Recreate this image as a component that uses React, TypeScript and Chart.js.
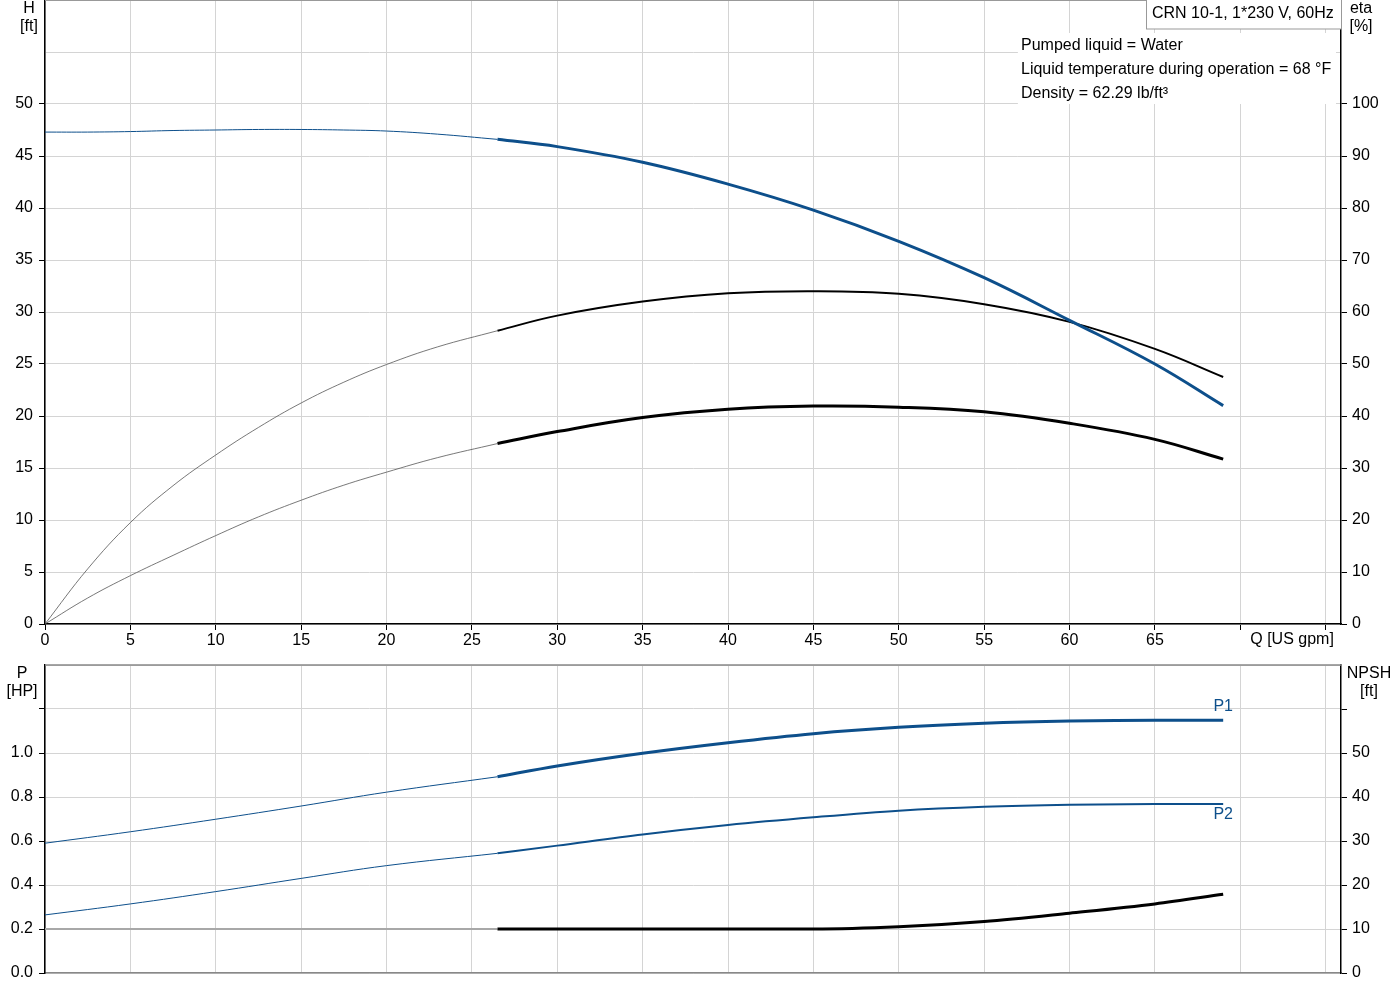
import React, { useRef, useEffect } from "react";
import { Chart, registerables } from "chart.js";

Chart.register(...registerables);

// flow rate [US gpm], split where the curves turn from thin to thick
const qLow = [0, 2.5, 5, 7.5, 10, 12.5, 15, 17.5, 20, 23, 26.5];
const qHigh = [26.5, 30, 35, 40, 45, 50, 55, 60, 65, 69];
const qPowerLow = [0, 5, 10, 15, 20, 26.5];

// head H [ft]
const headLow = [47.3, 47.3, 47.35, 47.45, 47.5, 47.55, 47.55, 47.5, 47.4, 47.1, 46.6];
const headHigh = [46.6, 45.9, 44.4, 42.3, 39.8, 36.8, 33.3, 29.2, 25.0, 21.0];

// efficiency eta [%]
const etaLow = [0, 10.6, 19.5, 26.6, 32.5, 37.8, 42.5, 46.5, 49.9, 53.3, 56.4];
const etaHigh = [56.4, 59.3, 62.0, 63.6, 64.0, 63.5, 61.5, 58.1, 52.9, 47.5];
const etaTotalLow = [0, 5.0, 9.3, 13.2, 17.0, 20.6, 23.8, 26.7, 29.2, 32.0, 34.7];
const etaTotalHigh = [34.7, 37.0, 39.7, 41.3, 41.9, 41.7, 40.8, 38.6, 35.5, 31.7];

// power [HP]
const p1Low = [0.59, 0.642, 0.699, 0.759, 0.822, 0.892];
const p1High = [0.892, 0.941, 0.999, 1.047, 1.088, 1.117, 1.135, 1.145, 1.149, 1.149];
const p2Low = [0.264, 0.314, 0.37, 0.43, 0.488, 0.544];
const p2High = [0.544, 0.579, 0.63, 0.673, 0.708, 0.738, 0.756, 0.765, 0.768, 0.768];

// NPSH [ft]
const npshLow = [10, 10, 10, 10, 10, 10];
const npshHigh = [10, 10, 10, 10, 10, 10.5, 11.7, 13.6, 15.7, 17.9];

const xTicks = [0, 5, 10, 15, 20, 25, 30, 35, 40, 45, 50, 55, 60, 65, 70, 75];
const infoLines = [
  "Pumped liquid = Water",
  "Liquid temperature during operation = 68 °F",
  "Density = 62.29 lb/ft³",
];
const pumpTitle = "CRN 10-1, 1*230 V, 60Hz";

const BLUE = "#0d4f8b";
const THIN_BLACK = "#555555";
const GRID = "#d4d4d4";
const FONT = "Liberation Sans, Arial, sans-serif";

const pts = (xs: number[], ys: number[]) => xs.map((x, i) => ({ x, y: ys[i] }));

const line = (
  data: { x: number; y: number }[],
  color: string,
  width: number,
  axis: string,
  monotone = false
) => ({
  data,
  borderColor: color,
  borderWidth: width,
  pointRadius: 0,
  fill: false,
  tension: 0.4,
  cubicInterpolationMode: monotone ? ("monotone" as const) : ("default" as const),
  yAxisID: axis,
});

const noPadding = (s: any) => {
  s.paddingTop = 0;
  s.paddingBottom = 0;
  s.paddingLeft = 0;
  s.paddingRight = 0;
};

const xScale = (showLabels: boolean, height: number) => ({
  type: "linear" as const,
  min: 0,
  max: 75.9,
  afterBuildTicks: (s: any) => {
    s.ticks = xTicks.map((value) => ({ value }));
  },
  afterFit: (s: any) => {
    s.height = height;
    noPadding(s);
  },
  grid: {
    color: GRID,
    lineWidth: 1,
    drawTicks: showLabels,
    tickLength: 6,
    tickColor: "#000",
  },
  border: { display: true, color: showLabels ? "#000" : "#888", width: 1.5 },
  ticks: {
    display: showLabels,
    padding: 1,
    color: "#000",
    font: { family: FONT, size: 16 },
    callback: (v: any) => (v <= 65 ? String(v) : ""),
  },
});

const yScale = (
  position: "left" | "right",
  max: number,
  step: number,
  labelMax: number,
  tickMax: number,
  width: number,
  withGrid: boolean,
  fmt: (v: number) => string
) => ({
  type: "linear" as const,
  position,
  min: 0,
  max,
  ticks: {
    stepSize: step,
    padding: position === "left" ? 6 : 5,
    color: "#000",
    font: { family: FONT, size: 16 },
    callback: (v: any) => (v <= labelMax + 1e-6 ? fmt(Number(v)) : ""),
  },
  afterFit: (s: any) => {
    s.width = width;
    noPadding(s);
  },
  grid: {
    display: true,
    drawOnChartArea: withGrid,
    color: GRID,
    lineWidth: 1,
    drawTicks: true,
    tickLength: 6,
    tickColor: (c: any) => (c.tick && c.tick.value <= tickMax + 1e-6 ? "#000" : "rgba(0,0,0,0)"),
  },
  border: { display: true, color: "#000", width: 1.5 },
});

const text = (
  ctx: CanvasRenderingContext2D,
  s: string,
  x: number,
  y: number,
  align: CanvasTextAlign,
  color = "#000"
) => {
  ctx.fillStyle = color;
  ctx.textAlign = align;
  ctx.textBaseline = "middle";
  ctx.fillText(s, x, y);
};

const topDecor = {
  id: "topDecor",
  afterDraw(chart: any) {
    const { ctx, chartArea } = chart;
    const xs = chart.scales.x;
    ctx.save();
    ctx.font = `16px ${FONT}`;
    // top border
    ctx.strokeStyle = "#999";
    ctx.lineWidth = 1;
    ctx.beginPath();
    ctx.moveTo(chartArea.left, chartArea.top + 0.5);
    ctx.lineTo(chartArea.right, chartArea.top + 0.5);
    ctx.stroke();
    // axis titles
    text(ctx, "H", chartArea.left - 16, 9, "center");
    text(ctx, "[ft]", chartArea.left - 16, 27, "center");
    text(ctx, "eta", chartArea.right + 20, 9, "center");
    text(ctx, "[%]", chartArea.right + 20, 27, "center");
    text(ctx, "Q [US gpm]", xs.getPixelForValue(70) + 10, chartArea.bottom + 16, "left");
    // info block
    ctx.fillStyle = "#fff";
    ctx.fillRect(1018, 33, 318, 71);
    infoLines.forEach((s, i) => text(ctx, s, 1021, 46 + i * 24, "left"));
    // pump title box
    ctx.fillStyle = "#fff";
    ctx.fillRect(1146, 0, chartArea.right - 1146, 29);
    ctx.strokeStyle = "#999";
    ctx.strokeRect(1146.5, -1, chartArea.right - 1146, 30);
    text(ctx, pumpTitle, 1152, 14, "left");
    ctx.restore();
  },
};

const bottomDecor = {
  id: "bottomDecor",
  afterDraw(chart: any) {
    const { ctx, chartArea } = chart;
    ctx.save();
    ctx.font = `16px ${FONT}`;
    ctx.strokeStyle = "#888";
    ctx.lineWidth = 1.5;
    ctx.beginPath();
    ctx.moveTo(chartArea.left, chartArea.top);
    ctx.lineTo(chartArea.right, chartArea.top);
    ctx.stroke();
    text(ctx, "P", chartArea.left - 23, 19, "center");
    text(ctx, "[HP]", chartArea.left - 23, 37, "center");
    text(ctx, "NPSH", chartArea.right + 28, 19, "center");
    text(ctx, "[ft]", chartArea.right + 28, 37, "center");
    const p1 = chart.getDatasetMeta(0).data;
    const p2 = chart.getDatasetMeta(2).data;
    const e1 = p1[p1.length - 1];
    const e2 = p2[p2.length - 1];
    text(ctx, "P1", e1.x, e1.y - 14, "center", BLUE);
    text(ctx, "P2", e2.x, e2.y + 11, "center", BLUE);
    ctx.restore();
  },
};

const App = () => {
  const topRef = useRef<HTMLCanvasElement>(null);
  const bottomRef = useRef<HTMLCanvasElement>(null);

  useEffect(() => {
    if (!topRef.current || !bottomRef.current) return;

    const top = new Chart(topRef.current, {
      type: "line",
      data: {
        datasets: [
          line(pts(qHigh, headHigh), BLUE, 3, "y"),
          line(pts(qLow, headLow), BLUE, 1, "y"),
          line(pts(qHigh, etaHigh), "#000", 2, "y1"),
          line(pts(qLow, etaLow), THIN_BLACK, 0.8, "y1"),
          line(pts(qHigh, etaTotalHigh), "#000", 3, "y1"),
          line(pts(qLow, etaTotalLow), THIN_BLACK, 0.8, "y1"),
        ] as any,
      },
      options: {
        responsive: false,
        animation: false,
        events: [],
        layout: { padding: 0 },
        plugins: { legend: { display: false }, tooltip: { enabled: false } },
        scales: {
          x: xScale(true, 31),
          y: yScale("left", 60, 5, 50, 50, 45, true, (v) => String(v)),
          y1: yScale("right", 120, 10, 100, 100, 59, false, (v) => String(v)),
        } as any,
      },
      plugins: [topDecor],
    });

    const bottom = new Chart(bottomRef.current, {
      type: "line",
      data: {
        datasets: [
          line(pts(qHigh, p1High), BLUE, 3, "y", true),
          line(pts(qPowerLow, p1Low), BLUE, 1, "y"),
          line(pts(qHigh, p2High), BLUE, 2, "y", true),
          line(pts(qPowerLow, p2Low), BLUE, 1, "y"),
          line(pts(qHigh, npshHigh), "#000", 3, "y1", true),
          line(pts(qPowerLow, npshLow), "#a8a8a8", 2, "y1", true),
        ] as any,
      },
      options: {
        responsive: false,
        animation: false,
        events: [],
        layout: { padding: { top: 10, left: 0, right: 0, bottom: 0 } },
        plugins: { legend: { display: false }, tooltip: { enabled: false } },
        scales: {
          x: xScale(false, 27),
          y: yScale("left", 1.4, 0.2, 1.0, 1.2, 45, true, (v) => v.toFixed(1)),
          y1: yScale("right", 70, 10, 50, 60, 59, false, (v) => String(Math.round(v))),
        } as any,
      },
      plugins: [bottomDecor],
    });

    return () => {
      top.destroy();
      bottom.destroy();
    };
  }, []);

  return (
    <div style={{ position: "absolute", left: 0, top: 0, width: 1400, height: 1000, background: "#fff" }}>
      <canvas
        ref={topRef}
        width={1400}
        height={655}
        style={{ position: "absolute", left: 0, top: 0, width: 1400, height: 655 }}
      />
      <canvas
        ref={bottomRef}
        width={1400}
        height={345}
        style={{ position: "absolute", left: 0, top: 655, width: 1400, height: 345 }}
      />
    </div>
  );
};

export default App;
